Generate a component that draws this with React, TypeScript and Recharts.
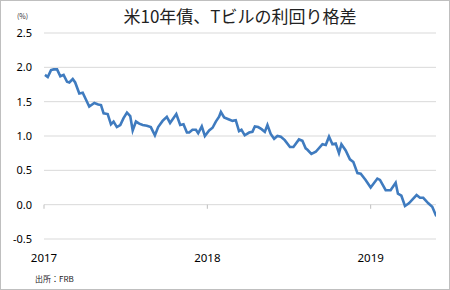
import React from "react";
import { LineChart, Line, XAxis, YAxis, CartesianGrid, ReferenceLine } from "recharts";

const dates: number[] = [
  2017.006, 2017.023, 2017.043, 2017.059, 2017.08, 2017.1, 2017.12, 2017.141, 2017.155, 2017.176,
  2017.191, 2017.216, 2017.237, 2017.253, 2017.277, 2017.308, 2017.332, 2017.349, 2017.365, 2017.39,
  2017.41, 2017.426, 2017.446, 2017.467, 2017.487, 2017.508, 2017.528, 2017.543, 2017.563, 2017.583,
  2017.604, 2017.63, 2017.654, 2017.679, 2017.699, 2017.726, 2017.752, 2017.772, 2017.81, 2017.834,
  2017.854, 2017.875, 2017.889, 2017.909, 2017.93, 2017.944, 2017.966, 2017.985, 2018.011, 2018.032,
  2018.052, 2018.072, 2018.083, 2018.103, 2018.133, 2018.154, 2018.174, 2018.194, 2018.209, 2018.229,
  2018.256, 2018.276, 2018.291, 2018.311, 2018.332, 2018.352, 2018.368, 2018.388, 2018.409, 2018.429,
  2018.45, 2018.474, 2018.506, 2018.527, 2018.561, 2018.582, 2018.602, 2018.613, 2018.637, 2018.664,
  2018.705, 2018.725, 2018.745, 2018.766, 2018.786, 2018.806, 2018.821, 2018.847, 2018.873, 2018.894,
  2018.919, 2018.939, 2018.969, 2019.0, 2019.041, 2019.057, 2019.092, 2019.122, 2019.153, 2019.167,
  2019.188, 2019.21, 2019.234, 2019.281, 2019.302, 2019.322, 2019.353, 2019.377, 2019.402,
];

const spread: number[] = [
  1.89, 1.86, 1.96, 1.97, 1.97, 1.87, 1.89, 1.79, 1.78, 1.83,
  1.78, 1.62, 1.63, 1.55, 1.43, 1.48, 1.46, 1.45, 1.33, 1.32,
  1.17, 1.21, 1.13, 1.16, 1.26, 1.34, 1.29, 1.08, 1.21, 1.18,
  1.16, 1.15, 1.13, 1.01, 1.13, 1.22, 1.28, 1.19, 1.32, 1.16,
  1.17, 1.05, 1.05, 1.09, 1.09, 1.04, 1.14, 1.0, 1.08, 1.12,
  1.21, 1.28, 1.35, 1.27, 1.24, 1.22, 1.23, 1.07, 1.09, 1.01,
  1.05, 1.06, 1.14, 1.13, 1.1, 1.06, 1.16, 1.03, 0.96, 1.0,
  0.99, 0.94, 0.84, 0.84, 0.95, 0.93, 0.82, 0.8, 0.74, 0.77,
  0.88, 0.87, 0.99, 0.88, 0.89, 0.75, 0.88, 0.79, 0.66, 0.62,
  0.46, 0.45, 0.36, 0.25, 0.38, 0.36, 0.21, 0.21, 0.32, 0.16,
  0.13, -0.02, 0.02, 0.14, 0.1, 0.1, 0.02, -0.03, -0.17,
];

const yTicks: number[] = [-0.5, 0, 0.5, 1.0, 1.5, 2.0, 2.5];
const xTicks: number[] = [2017, 2018, 2019];

const title = "米10年債、Tビルの利回り格差";
const unitLabel = "(%)";
const sourceLabel = "出所：FRB";

const data = dates.map((d, i) => ({ date: d, value: spread[i] }));

const gray = "#bfbfbf";
const textFont = "'Noto Sans CJK JP', 'Noto Sans', sans-serif";

function YearTick(props: any) {
  const { x, y, payload } = props;
  return (
    <text
      x={x}
      y={y}
      dy={7.5}
      textAnchor="middle"
      fill="#000"
      fontSize={11.5}
      fontFamily="'Noto Sans', sans-serif"
    >
      {String(Math.round(payload.value))}
    </text>
  );
}

export default function App() {
  return (
    <div
      style={{
        position: "absolute",
        left: 0,
        top: 0,
        width: 450,
        height: 290,
        boxSizing: "border-box",
        border: `1px solid ${gray}`,
        background: "#fff",
        fontFamily: textFont,
      }}
    >
      <div style={{ position: "absolute", left: -1, top: -1 }}>
        <LineChart
          width={450}
          height={290}
          data={data}
          margin={{ top: 33, right: 14, left: 0, bottom: 0 }}
        >
          <CartesianGrid vertical={false} stroke="#d9d9d9" strokeWidth={1} />
          <XAxis
            dataKey="date"
            type="number"
            domain={[2017, 2019.4]}
            ticks={xTicks}
            interval={0}
            allowDataOverflow
            axisLine={false}
            tickLine={false}
            height={51}
            tickMargin={9}
            tick={<YearTick />}
          />
          <YAxis
            type="number"
            domain={[-0.5, 2.5]}
            ticks={yTicks}
            width={44}
            axisLine={false}
            tickLine={false}
            tickMargin={6}
            tick={{ fill: "#000", fontSize: 11, fontFamily: "'Noto Sans', sans-serif" }}
            tickFormatter={(v: number) => v.toFixed(1)}
          />
          {xTicks.map((t) => (
            <ReferenceLine
              key={t}
              segment={[
                { x: t, y: 0 },
                { x: t, y: -0.06 },
              ]}
              stroke={gray}
              strokeWidth={1}
            />
          ))}
          <Line
            type="linear"
            dataKey="value"
            stroke="#3f7bbf"
            strokeWidth={2.6}
            dot={false}
            isAnimationActive={false}
          />
        </LineChart>
      </div>
      <div
        style={{
          position: "absolute",
          left: 0,
          width: 478,
          top: 4,
          textAlign: "center",
          fontSize: 17,
          lineHeight: "22px",
          color: "#222",
          whiteSpace: "nowrap",
        }}
      >
        {title}
      </div>
      <div
        style={{
          position: "absolute",
          left: 16,
          top: 11,
          fontSize: 7,
          lineHeight: "9px",
          color: "#333",
        }}
      >
        {unitLabel}
      </div>
      <div
        style={{
          position: "absolute",
          left: 34,
          top: 272,
          fontSize: 8,
          lineHeight: "11px",
          color: "#222",
        }}
      >
        {sourceLabel}
      </div>
    </div>
  );
}
